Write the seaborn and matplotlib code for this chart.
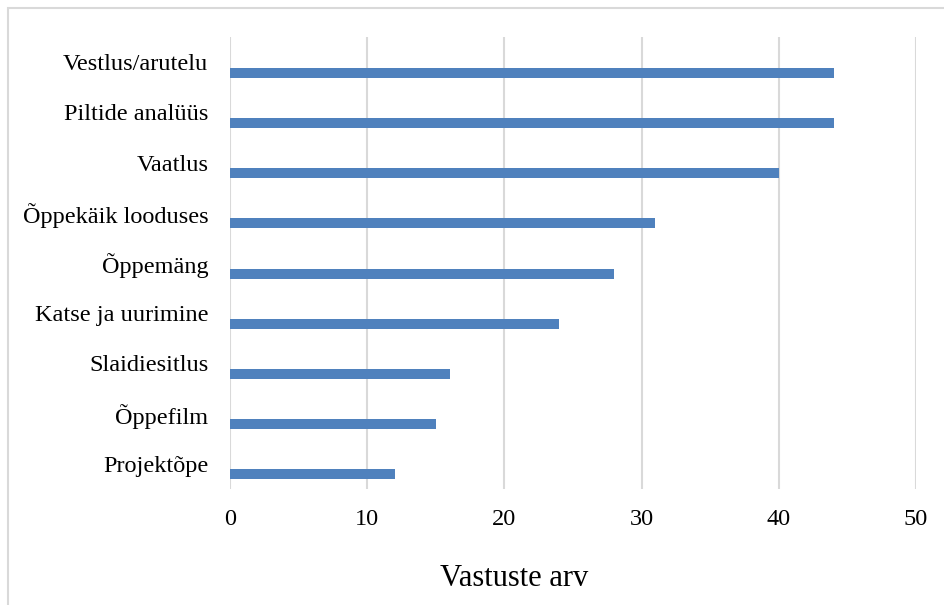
import matplotlib
matplotlib.use("Agg")
import matplotlib.pyplot as plt
import seaborn as sns
import numpy as np
import pandas as pd
from matplotlib.patches import Rectangle

categories = ["Vestlus/arutelu", "Piltide analüüs", "Vaatlus", "Õppekäik looduses",
              "Õppemäng", "Katse ja uurimine", "Slaidiesitlus", "Õppefilm", "Projektõpe"]
values = [44, 44, 40, 31, 28, 24, 16, 15, 12]
x_ticks = [0, 10, 20, 30, 40, 50]
x_label = "Vastuste arv"

df = pd.DataFrame({"cat": categories, "val": values})

sns.set_style("white")
plt.rcParams['font.family'] = ['Liberation Serif', 'DejaVu Serif']
plt.rcParams['text.color'] = 'black'
plt.rcParams['xtick.color'] = 'black'
plt.rcParams['ytick.color'] = 'black'
plt.rcParams['axes.labelcolor'] = 'black'

W, H = 945, 605
fig = plt.figure(figsize=(W / 100, H / 100), dpi=100)
ax = fig.add_axes([230 / W, 1 - 489 / H, (916 - 230) / W, (489 - 37) / H])

sns.barplot(data=df, x="val", y="cat", orient="h", color="#4F81BD",
            width=0.2, saturation=1, ax=ax, edgecolor="none")

off = 0.21
n = len(categories)
ax.set_yticks(np.arange(n) - off)
ax.set_yticklabels(categories, fontsize=17.5, color='black')
ax.set_ylim(n - 1 - off + 0.5, -off - 0.5)
ax.set_xlim(0, 50)
ax.set_xticks(x_ticks)
ax.set_xticklabels([str(t) for t in x_ticks], fontsize=17.5, color='black')
ax.tick_params(axis='both', length=0)
ax.tick_params(axis='x', pad=14.5)
ax.tick_params(axis='y', pad=15.5)
ax.set_ylabel("")
ax.set_xlabel(x_label, fontsize=22, color='black', va='center')
ax.xaxis.set_label_coords((514 - 230) / 686, (489 - 579) / 452)
for s in ax.spines.values():
    s.set_visible(False)
ax.grid(axis='x', color="#D9D9D9", linewidth=1.5)
ax.grid(axis='y', visible=False)
ax.set_axisbelow(True)

fig.patches.append(Rectangle((8 / W, -0.1), 1.2, 1 - 8 / H + 0.1, transform=fig.transFigure,
                             fill=False, edgecolor="#D9D9D9", linewidth=1.5))

fig.savefig("out.png", dpi=100)
